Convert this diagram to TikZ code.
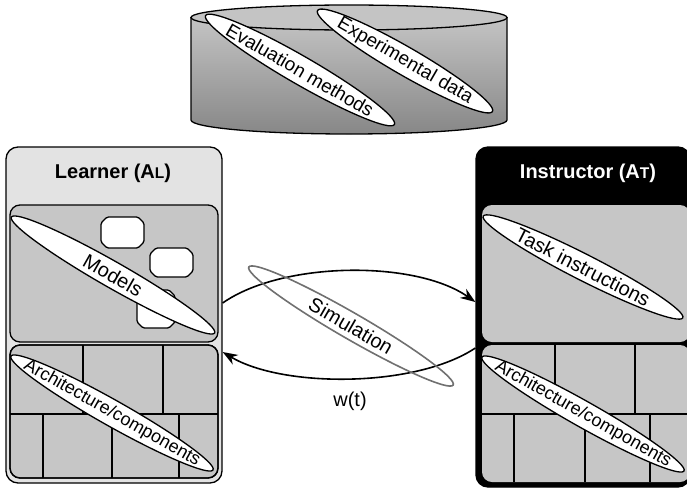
\documentclass[tikz,border=0pt]{standalone}
\usepackage{fontspec}
\setmainfont{Liberation Sans}
\usetikzlibrary{arrows.meta}
\definecolor{lightbox}{HTML}{E3E3E3}
\definecolor{midbox}{HTML}{C6C6C6}
\definecolor{simgray}{HTML}{707070}
\definecolor{cyltop}{HTML}{C4C4C4}
\definecolor{cylbot}{HTML}{878787}
\tikzset{
  outline/.style={line width=1.3pt},
  panel/.style={draw, outline, rounded corners=10pt, fill=midbox},
  oval/.style={draw, outline, fill=white},
  ovaltext/.style={font=\fontsize{20}{22}\selectfont, inner sep=0pt},
  titletext/.style={font=\bfseries\fontsize{20}{22}\selectfont},
  chip/.style={draw, outline, fill=white, rounded corners=1.5pt},
  flow/.style={line width=1.6pt, -{Stealth[length=15pt,width=11pt]}},
  grid/.style={line width=1.2pt},
}
\begin{document}
\begin{tikzpicture}[x=1pt,y=-1pt]
\useasboundingbox (0,0) rectangle (687,490);
% ---------- cylinder ----------
\shade[top color=cyltop, bottom color=cylbot] (191,17) -- (191,120) arc[start angle=180, end angle=360, x radius=158pt, y radius=14pt] -- (507,17) -- cycle;
\draw[outline] (191,17) -- (191,120) arc[start angle=180, end angle=360, x radius=158pt, y radius=14pt] -- (507,17);
\draw[outline, fill=cyltop] (349,17.5) ellipse (158pt and 12.5pt);
\coordinate (evc) at (300,70);
\coordinate (exc) at (405,61);
\draw[oval, rotate around={-30:(evc)}] (evc) ellipse (109pt and 14pt);
\node[ovaltext, rotate=-30, font=\fontsize{19}{21}\selectfont] (evtext) at (evc) {Evaluation methods};
\draw[oval, rotate around={-30:(exc)}] (exc) ellipse (101pt and 14pt);
\node[ovaltext, rotate=-30, font=\fontsize{19}{21}\selectfont] (extext) at (exc) {Experimental data};
% ---------- learner ----------
\node[draw, outline, rounded corners=12pt, fill=lightbox, minimum width=216pt, minimum height=336pt, inner sep=0pt] (learner) at (114,315) {};
\node[titletext] (ltitle) at (113,173) {Learner (A{\fontsize{15.5}{17}\selectfont L})};
\node[panel, minimum width=208pt, minimum height=137pt, inner sep=0pt] (models) at (114,273.5) {};
\draw[chip] (107,217) -- (138,217) -- (144,223) -- (144,242) -- (138,248) -- (107,248) -- (101,242) -- (101,223) -- cycle;
\draw[chip] (156,248) -- (187,248) -- (193,254) -- (193,271) -- (187,277) -- (156,277) -- (150,271) -- (150,254) -- cycle;
\draw[chip] (143,290) -- (169,290) -- (175,296) -- (175,322) -- (169,328) -- (143,328) -- (137,322) -- (137,296) -- cycle;
\coordinate (mc) at (113,275);
\draw[oval, rotate around={-29.7:(mc)}] (mc) ellipse (117pt and 13pt);
\node[ovaltext, rotate=-29.7] (mtext) at (mc) {Models};
\node[panel, minimum width=208pt, minimum height=133pt, inner sep=0pt] (larch) at (114,411.5) {};
\draw[grid] (10,414) -- (218,414);
\draw[grid] (83,345) -- (83,414) (163,345) -- (163,414);
\draw[grid] (43,414) -- (43,478) (112,414) -- (112,478) (179,414) -- (179,478);
\draw[outline, rounded corners=10pt] (10,345) rectangle (218,478);
\coordinate (lac) at (112,413);
\draw[oval, rotate around={-29.4:(lac)}] (lac) ellipse (116pt and 13pt);
\node[ovaltext, rotate=-29.4, font=\fontsize{18}{20}\selectfont] (latext) at (lac) {Architecture/components};
% ---------- instructor ----------
\node[draw, outline, rounded corners=12pt, fill=black, minimum width=214pt, minimum height=340pt, inner sep=0pt] (instructor) at (583,317) {};
\node[titletext, text=white] (ititle) at (588,173) {Instructor (A{\fontsize{15.5}{17}\selectfont T})};
\node[panel, draw=none, minimum width=208pt, minimum height=137pt, inner sep=0pt] (task) at (586,273.5) {};
\coordinate (tc) at (583,267);
\draw[oval, rotate around={-27:(tc)}] (tc) ellipse (112pt and 13pt);
\node[ovaltext, rotate=-27] (ttext) at (tc) {Task instructions};
\node[panel, draw=none, minimum width=208pt, minimum height=137pt, inner sep=0pt] (iarch) at (586,413.5) {};
\draw[grid] (482,414) -- (690,414);
\draw[grid] (555,345) -- (555,414) (635,345) -- (635,414);
\draw[grid] (514,414) -- (514,482) (585,414) -- (585,482) (650,414) -- (650,482);
\coordinate (iac) at (583,414);
\draw[oval, rotate around={-29.4:(iac)}] (iac) ellipse (116pt and 13pt);
\node[ovaltext, rotate=-29.4, font=\fontsize{18}{20}\selectfont] (iatext) at (iac) {Architecture/components};
% ---------- simulation ----------
\draw[flow] ([yshift=12pt]learner.east) .. controls +(60,-42) and +(-60,-42) .. ([yshift=15pt]instructor.west);
\draw[flow] ([yshift=-31pt]instructor.west) .. controls +(-60,40) and +(60,36) .. ([yshift=-37pt]learner.east);
\coordinate (sc) at (351,326);
\draw[draw=simgray, line width=1.6pt, rotate around={-30:(sc)}] (sc) ellipse (118pt and 13pt);
\node[ovaltext, rotate=-30] (stext) at (sc) {Simulation};
\node[font=\fontsize{20}{22}\selectfont] (wt) at (350,401) {w(t)};
\end{tikzpicture}
\end{document}
